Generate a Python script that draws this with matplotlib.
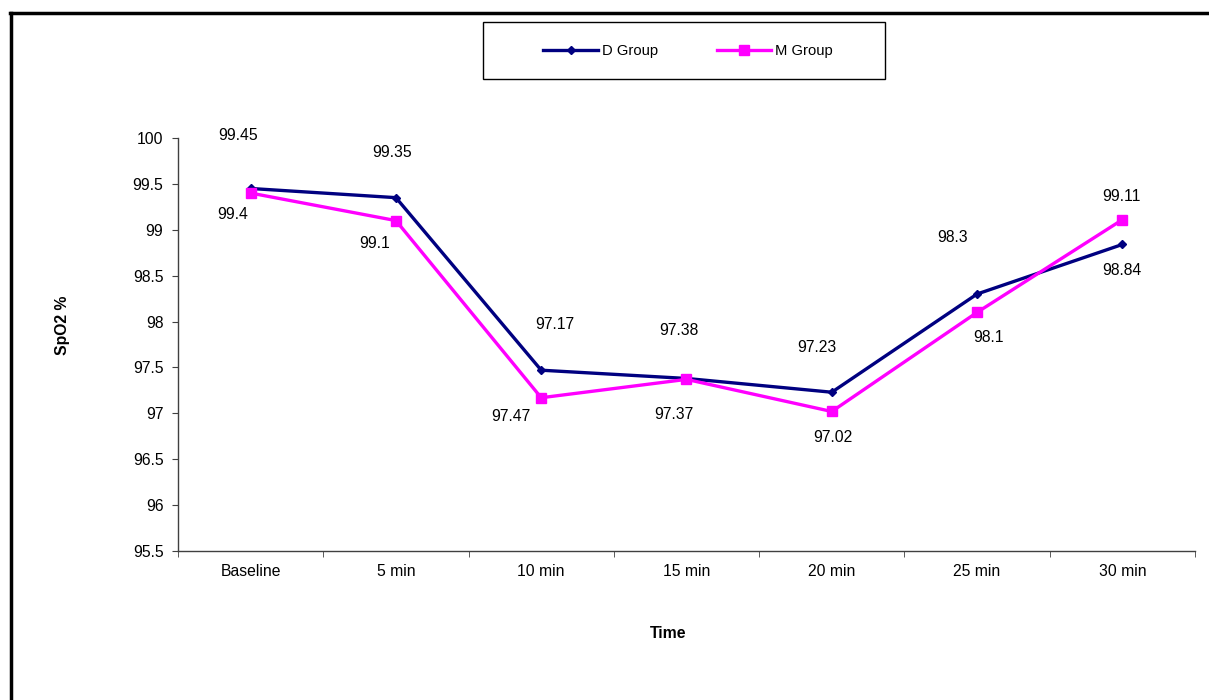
import matplotlib
matplotlib.use("Agg")

import matplotlib.pyplot as plt
import numpy as np
from matplotlib.lines import Line2D
from matplotlib.patches import Rectangle

plt.rcParams["font.family"] = ["Liberation Sans", "DejaVu Sans"]
plt.rcParams["font.size"] = 11.3

# ── Data ───────────────────────────────────────────────────────────────
times = ["Baseline", "5 min", "10 min", "15 min", "20 min", "25 min", "30 min"]
d_group = [99.45, 99.35, 97.47, 97.38, 97.23, 98.3, 98.84]
m_group = [99.4, 99.1, 97.17, 97.37, 97.02, 98.1, 99.11]

# data labels as they appear in the chart (upper row / lower row)
upper_labels = ["99.45", "99.35", "97.17", "97.38", "97.23", "98.3", "99.11"]
lower_labels = ["99.4", "99.1", "97.47", "97.37", "97.02", "98.1", "98.84"]

# label offsets in pixels from the upper / lower point of each category
upper_off = [(-13, 53), (-4, 45), (14, 46), (-8, 48), (-15, 45), (-25, 57), (-1, 23)]
lower_off = [(-18, -21), (-21, -23), (-30, -19), (-13, -35), (1, -26), (11, -25), (0, -26)]

D_COLOR = "#000080"
M_COLOR = "#FF00FF"
W, H = 1209, 700

fig = plt.figure(figsize=(W / 100, H / 100), dpi=100)
ax = fig.add_axes([178 / W, 1 - 551 / H, (1195 - 178) / W, (551 - 138) / H])

x = np.arange(len(times))
ax.plot(x, d_group, color=D_COLOR, lw=2.4, marker="D", ms=4.5, label="D Group")
ax.plot(x, m_group, color=M_COLOR, lw=2.4, marker="s", ms=6.5, label="M Group")

upper = np.maximum(d_group, m_group)
lower = np.minimum(d_group, m_group)
for i in range(len(times)):
    ax.annotate(upper_labels[i], (x[i], upper[i]), xytext=upper_off[i],
                textcoords="offset pixels", ha="center", va="center")
    ax.annotate(lower_labels[i], (x[i], lower[i]), xytext=lower_off[i],
                textcoords="offset pixels", ha="center", va="center")

# ── Axes styling ───────────────────────────────────────────────────────
ax.set_xlim(-0.5, len(times) - 0.5)
ax.set_ylim(95.5, 100)
ax.set_yticks(np.arange(95.5, 100.01, 0.5))
ax.set_yticklabels([f"{v:g}" for v in np.arange(95.5, 100.01, 0.5)])
ax.set_xticks(x, times)
ax.set_xticks(np.arange(-0.5, len(times), 1), minor=True)
ax.tick_params(axis="x", which="major", length=0, pad=9.5)
ax.tick_params(axis="x", which="minor", length=4, direction="out", color="#404040")
ax.tick_params(axis="y", length=4.5, direction="out", color="#404040", pad=6)
for side in ("top", "right"):
    ax.spines[side].set_visible(False)
for side in ("left", "bottom"):
    ax.spines[side].set_color("#404040")
    ax.spines[side].set_linewidth(1.0)

fig.text(63 / W, 1 - 325 / H, "SpO2 %", rotation=90, ha="center", va="center",
         fontweight="bold")
fig.text(668 / W, 1 - 633 / H, "Time", ha="center", va="center", fontweight="bold")

# ── Legend box ─────────────────────────────────────────────────────────
fig.add_artist(Rectangle((483 / W, 1 - 79 / H), 402 / W, 57 / H,
                         transform=fig.transFigure, fill=False,
                         edgecolor="black", lw=1.0))
fig.legend(loc="center", bbox_to_anchor=(688 / W, 1 - 51 / H), ncol=2,
           frameon=False, fontsize=10.6, handlelength=3.7, handletextpad=0.25,
           columnspacing=4.0)

# ── Outer frame (left and top edges) ───────────────────────────────────
fig.add_artist(Line2D([10.5 / W, 10.5 / W], [0, 1 - 13 / H],
                      transform=fig.transFigure, color="black", lw=2.5))
fig.add_artist(Line2D([9.5 / W, 1], [1 - 13 / H, 1 - 13 / H],
                      transform=fig.transFigure, color="black", lw=2.5))

fig.savefig("out.png", dpi=100)
